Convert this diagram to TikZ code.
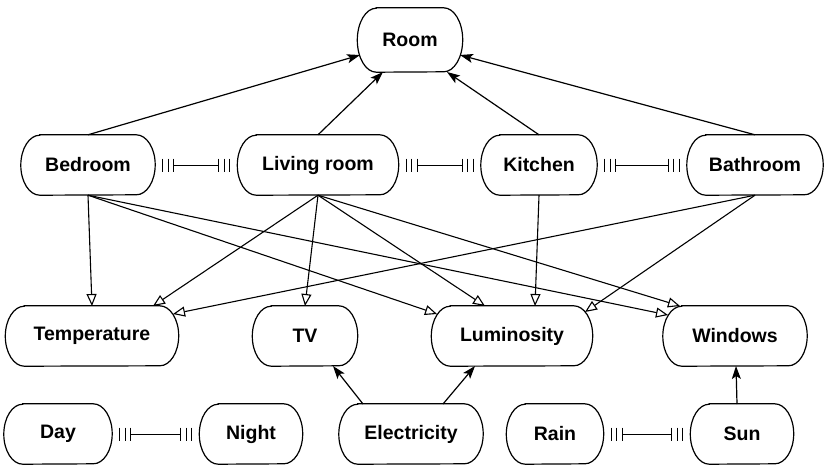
\documentclass[tikz,border=0pt]{standalone}
\usepackage{fontspec}
\setmainfont{Liberation Sans}
\usetikzlibrary{arrows.meta}
\newcommand\ndrx{19pt}
\newcommand\mknode[6]{%
  \node[txt, minimum width=#4pt, minimum height=#5pt*2] (#1) at (#2,#3) {#6};
  \draw[shp] ([xshift=\ndrx]#1.north west) -- ([xshift=-\ndrx]#1.north east)
    arc[start angle=90,end angle=-90,x radius=\ndrx,y radius=#5pt]
    -- ([xshift=\ndrx]#1.south west)
    arc[start angle=270,end angle=90,x radius=\ndrx,y radius=#5pt] -- cycle;
}
\newcommand\dblbar[2]{%
  \draw[bar] ([shift={(7.5,-6.5)}]#1.east) -- ++(0,13);
  \draw[bar] ([shift={(13,-6.5)}]#1.east) -- ++(0,13);
  \draw[bar] ([shift={(18.5,-6.5)}]#1.east) -- ++(0,13);
  \draw[bar] ([shift={(-7.5,-6.5)}]#2.west) -- ++(0,13);
  \draw[bar] ([shift={(-13,-6.5)}]#2.west) -- ++(0,13);
  \draw[bar] ([shift={(-18.5,-6.5)}]#2.west) -- ++(0,13);
  \draw[bar] ([xshift=18.5pt]#1.east) -- ([xshift=-18.5pt]#2.west);
}
\tikzset{
  txt/.style={font=\bfseries\fontsize{19.5}{22}\selectfont, inner sep=0pt, draw=none, shape=rectangle},
  shp/.style={line width=1.2pt},
  bar/.style={line width=0.9pt},
  fil/.style={line width=1.2pt, -{Stealth[length=13pt,width=9pt,inset=3pt]}},
  opn/.style={line width=1.1pt, -{Triangle[open,length=12pt,width=10pt]}}
}
\begin{document}
\begin{tikzpicture}[x=1pt,y=-1pt]
\useasboundingbox (0,0) rectangle (826,466);
\mknode{room}{410}{40}{105}{32}{Room}
\mknode{bed}{88}{165}{134}{30}{Bedroom}
\mknode{liv}{318}{165}{161}{30}{Living room}
\mknode{kit}{539}{165}{116}{30}{Kitchen}
\mknode{bath}{755}{165}{136}{30}{Bathroom}
\mknode{temp}{92}{336}{173}{30}{Temperature}
\mknode{tv}{305}{336}{105}{30}{TV}
\mknode{lum}{512}{336}{161}{30}{Luminosity}
\mknode{win}{735}{336}{144}{30}{Windows}
\mknode{day}{58}{434}{108}{30}{Day}
\mknode{night}{251}{434}{103}{30}{Night}
\mknode{elec}{411}{434}{144}{30}{Electricity}
\mknode{rain}{555}{434}{97}{30}{Rain}
\mknode{sun}{742}{434}{103}{30}{Sun}
% to room
\draw[fil] (bed.north) -- ([shift={(-50,15)}]room.center);
\draw[fil] (liv.north) -- ([shift={(-27,32)}]room.center);
\draw[fil] (kit.north) -- ([shift={(37,32)}]room.center);
\draw[fil] (bath.north) -- ([shift={(50,15)}]room.center);
% bars
\dblbar{bed}{liv}
\dblbar{liv}{kit}
\dblbar{kit}{bath}
\dblbar{day}{night}
\dblbar{rain}{sun}
% middle
\draw[opn] (bed.south) -- ([shift={(0,-30)}]temp.center);
\draw[opn] (bed.south) -- ([shift={(-75,-22)}]lum.center);
\draw[opn] (bed.south) -- ([shift={(-67,-21)}]win.center);
\draw[opn] (liv.south) -- ([shift={(61,-30)}]temp.center);
\draw[opn] (liv.south) -- ([shift={(0,-30)}]tv.center);
\draw[opn] (liv.south) -- ([shift={(-27,-30)}]lum.center);
\draw[opn] (liv.south) -- ([shift={(-55,-30)}]win.center);
\draw[opn] (kit.south) -- ([shift={(23,-30)}]lum.center);
\draw[opn] (bath.south) -- ([shift={(81,-22)}]temp.center);
\draw[opn] (bath.south) -- ([shift={(73,-24)}]lum.center);
% bottom
\draw[fil] ([shift={(-48,-30)}]elec.center) -- ([shift={(28,30)}]tv.center);
\draw[fil] ([shift={(32,-30)}]elec.center) -- ([shift={(-37,30)}]lum.center);
\draw[fil] ([shift={(-5,-30)}]sun.center) -- ([shift={(1,30)}]win.center);
\end{tikzpicture}
\end{document}
